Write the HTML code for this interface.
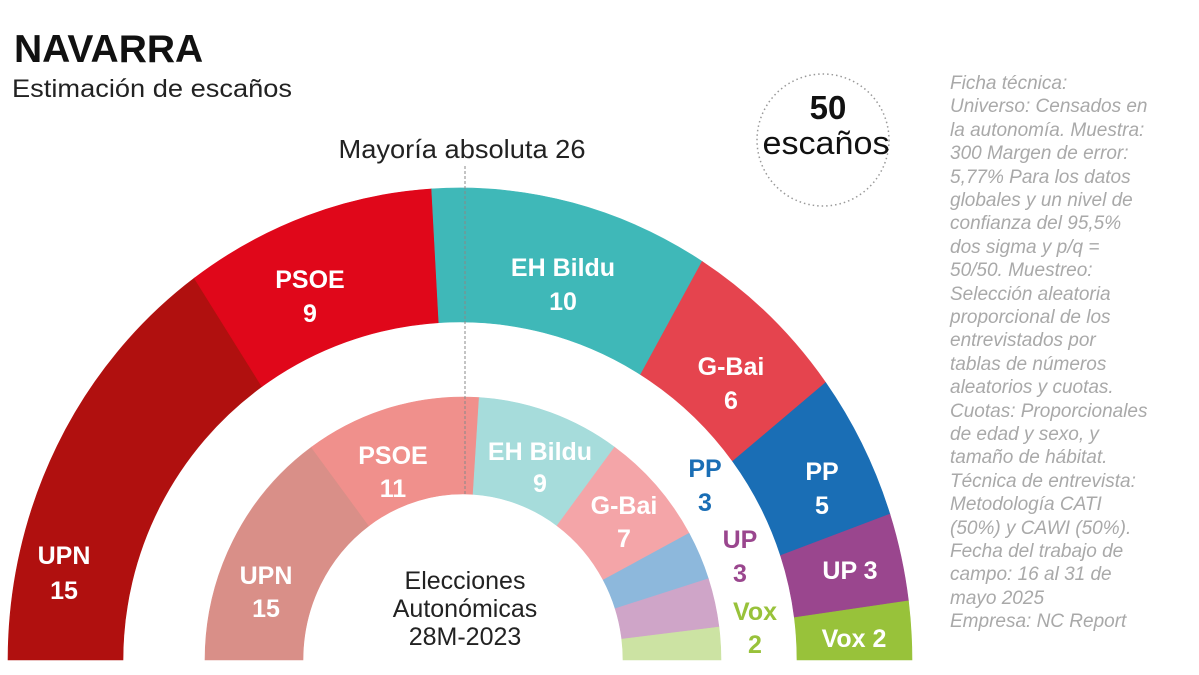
<!DOCTYPE html>
<html><head><meta charset="utf-8">
<style>
body{margin:0;background:#fff;width:1199px;height:675px;overflow:hidden;font-family:"Liberation Sans",sans-serif}
svg{position:absolute;left:0;top:0}
</style></head><body>
<svg id="s" width="1199" height="675" viewBox="0 0 1199 675">
<text x="14" y="62" font-size="39" font-weight="bold" fill="#111">NAVARRA</text>
<text x="12" y="97" font-size="25" fill="#222" textLength="280" lengthAdjust="spacingAndGlyphs">Estimación de escaños</text>
<circle cx="823" cy="140" r="66" fill="none" stroke="#999" stroke-width="1.5" stroke-dasharray="1.5 3"/>
<text x="828" y="119" font-size="33" font-weight="bold" fill="#111" text-anchor="middle">50</text>
<text x="826" y="154" font-size="32" fill="#111" text-anchor="middle" textLength="127" lengthAdjust="spacingAndGlyphs">escaños</text>
<text x="462" y="158" font-size="26" fill="#222" text-anchor="middle" textLength="247" lengthAdjust="spacingAndGlyphs">Mayoría absoluta 26</text>
<g id="arcs"></g>
<line x1="465" y1="166" x2="465" y2="495" stroke="#888" stroke-width="1" stroke-dasharray="3 2"/>
<g font-size="25" font-weight="bold" fill="#fff" text-anchor="middle">
<text x="64" y="564">UPN</text><text x="64" y="599">15</text>
<text x="310" y="288">PSOE</text><text x="310" y="322">9</text>
<text x="563" y="276">EH Bildu</text><text x="563" y="310">10</text>
<text x="731" y="375">G-Bai</text><text x="731" y="409">6</text>
<text x="822" y="480">PP</text><text x="822" y="514">5</text>
<text x="850" y="579">UP 3</text>
<text x="854" y="647">Vox 2</text>
<text x="266" y="584">UPN</text><text x="266" y="617">15</text>
<text x="393" y="464">PSOE</text><text x="393" y="497">11</text>
<text x="540" y="460">EH Bildu</text><text x="540" y="492">9</text>
<text x="624" y="514">G-Bai</text><text x="624" y="547">7</text>
<text x="705" y="477" fill="#1a6eb5">PP</text><text x="705" y="511" fill="#1a6eb5">3</text>
<text x="740" y="548" fill="#9a468e">UP</text><text x="740" y="582" fill="#9a468e">3</text>
<text x="755" y="620" fill="#98c23a">Vox</text><text x="755" y="653" fill="#98c23a">2</text>
</g>
<g font-size="25" fill="#222" text-anchor="middle">
<text x="465" y="589">Elecciones</text><text x="465" y="617">Autonómicas</text><text x="465" y="645">28M-2023</text>
</g>
<g font-size="19" font-style="italic" fill="#a9a9a9">
<text x="950" y="89">Ficha técnica:</text>
<text x="950" y="112">Universo: Censados en</text>
<text x="950" y="136">la autonomía. Muestra:</text>
<text x="950" y="159">300 Margen de error:</text>
<text x="950" y="183">5,77% Para los datos</text>
<text x="950" y="206">globales y un nivel de</text>
<text x="950" y="229">confianza del 95,5%</text>
<text x="950" y="253">dos sigma y p/q =</text>
<text x="950" y="276">50/50. Muestreo:</text>
<text x="950" y="300">Selección aleatoria</text>
<text x="950" y="323">proporcional de los</text>
<text x="950" y="346">entrevistados por</text>
<text x="950" y="370">tablas de números</text>
<text x="950" y="393">aleatorios y cuotas.</text>
<text x="950" y="417">Cuotas: Proporcionales</text>
<text x="950" y="440">de edad y sexo, y</text>
<text x="950" y="463">tamaño de hábitat.</text>
<text x="950" y="487">Técnica de entrevista:</text>
<text x="950" y="510">Metodología CATI</text>
<text x="950" y="534">(50%) y CAWI (50%).</text>
<text x="950" y="557">Fecha del trabajo de</text>
<text x="950" y="580">campo: 16 al 31 de</text>
<text x="950" y="604">mayo 2025</text>
<text x="950" y="627">Empresa: NC Report</text>
</g>
</svg>
<script>
function ring(cx,cy,rxo,ryo,rxi,ryi,segs){
  var g=document.getElementById('arcs'),tot=0,acc=0;segs.forEach(function(s){tot+=s[0]});
  segs.forEach(function(s){
    var a0=Math.PI*(1-acc/tot);acc+=s[0];var a1=Math.PI*(1-acc/tot);
    var p=function(rx,ry,a){return (cx+rx*Math.cos(a)).toFixed(2)+','+(cy-ry*Math.sin(a)).toFixed(2)};
    var d='M'+p(rxo,ryo,a0)+' A'+rxo+','+ryo+' 0 0 1 '+p(rxo,ryo,a1)+' L'+p(rxi,ryi,a1)+' A'+rxi+','+ryi+' 0 0 0 '+p(rxi,ryi,a0)+'Z';
    var e=document.createElementNS('http://www.w3.org/2000/svg','path');
    e.setAttribute('d',d);e.setAttribute('fill',s[1]);e.setAttribute('stroke',s[1]);e.setAttribute('stroke-width','0.6');g.appendChild(e);
  });
}
ring(460,660,452,472,337,338,[[15,'#b0100f'],[9,'#e0071a'],[10,'#3fb8b8'],[6,'#e5444e'],[5,'#1a6eb5'],[3,'#9a468e'],[2,'#98c23a']]);
ring(463,660,258,263,160,166,[[15,'#d98f88'],[11,'#f0908c'],[9,'#a6dcdb'],[7,'#f4a5a8'],[3,'#8db8dc'],[3,'#cfa5c8'],[2,'#cce3a3']]);
</script>
</body></html>
